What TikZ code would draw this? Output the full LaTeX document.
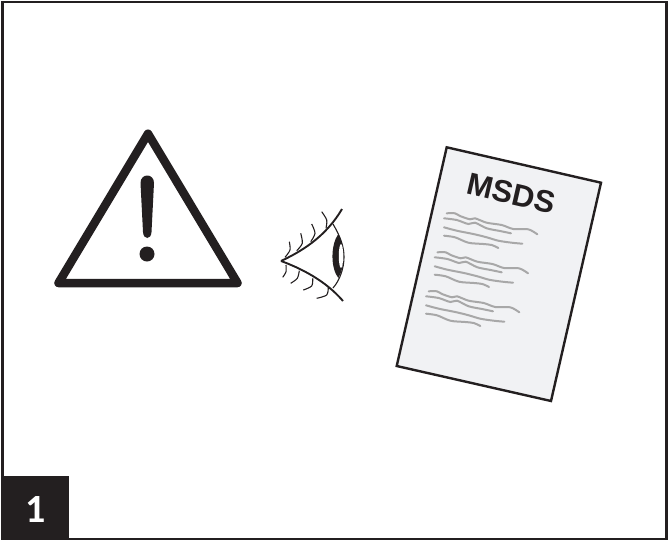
\documentclass[tikz,border=0pt]{standalone}
\usepackage{fontspec}
\setmainfont{Liberation Sans}
\newfontfamily\badgefont{Carlito}
\definecolor{inkdark}{HTML}{231F20}
\definecolor{sheetfill}{HTML}{F1F2F4}
\definecolor{scribble}{HTML}{A8A8A8}

\begin{document}
\begin{tikzpicture}[
		x=1pt, y=-1pt,
		frame/.style={draw=inkdark, line width=2.2pt},
		warning/.style={draw=inkdark, line width=8.5pt, line join=round},
		lid/.style={draw=inkdark, line width=1.9pt},
		lash/.style={draw=inkdark, line width=1.1pt},
		sheet/.style={draw=inkdark, fill=sheetfill, line width=2.4pt, line join=miter},
		textline/.style={draw=scribble, line width=2pt, line cap=round}
	]
		\useasboundingbox (0,0) rectangle (668,541);
		\draw[frame] (2.5,2) rectangle (666.5,539);

		% warning sign
		\draw[warning] (148,133.7) -- (237.5,283) -- (58.5,283) -- cycle;
		\fill[inkdark] (140.5,183) .. controls (140.5,173) and (154,173) .. (154,183)
			-- (151.5,232) .. controls (151,240) and (143.5,240) .. (143,232) -- cycle;
		\fill[inkdark] (147,254) circle (7.5);

		% eye
		\draw[lid] (281,261) .. controls (300,252) and (325,238) .. (342,209);
		\draw[lid] (281,261) .. controls (300,268) and (325,280) .. (343,301);
		\draw[lash] (333,224) .. controls (340,236) and (344,246) .. (344,257)
			.. controls (344,268) and (340,280) .. (333,288);
		\fill[inkdark] (338.3,234) .. controls (330.5,245) and (330.5,268) .. (338.3,278)
			.. controls (345,268) and (345,245) .. (338.3,234) -- cycle;
		\fill[white] (341,256) ellipse (2.2 and 12);
		\foreach \ax/\ay/\bx/\by/\cx/\cy in {
			285/257.3/290/250/289.3/241.7,
			296.7/250.7/302.3/243.3/300.7/233.3,
			310.7/241.7/315/233.3/311.7/224,
			326/228.3/326.7/220/321.7/211.7,
			286/265/286/271.7/282.7/277.3,
			299.3/270.7/297.3/278.3/290.7/283.3,
			312.7/278.3/311.7/286/303.3/290,
			328.3/287.3/326.7/295/316.7/298.3}
			\draw[lash] plot[smooth] coordinates {(\ax,\ay) (\bx,\by) (\cx,\cy)};

		% data sheet
		\draw[sheet] (446.7,147.3) -- (601,182.7) -- (551,401) -- (396.7,366) -- cycle;
		\node[rotate=-13, font=\bfseries\fontsize{31}{31}\selectfont, text=inkdark] (title) at (511.5,193.5) {MSDS};
		\foreach \dx/\dy in {0/0, -9.3/39, -18/78} {
			\draw[textline, shift={(\dx,\dy)}] plot[smooth] coordinates {(446.7,213.3) (455,213.3) (460,216) (470,219.3) (475,218.3) (486.7,222.7) (501.7,225) (513.3,229) (528.3,229.3) (537.3,234.3)};
			\draw[textline, shift={(\dx,\dy)}] plot[smooth] coordinates {(444,218.3) (456.7,220) (468.3,224) (475,222.7) (486.7,228.3) (500,231) (511,233.3)};
			\draw[textline, shift={(\dx,\dy)}] plot[smooth] coordinates {(444,227.3) (456.7,230.7) (473.3,234) (486.7,237.3) (498.3,240.7) (511.7,242.7) (522.3,243.7)};
			\draw[textline, shift={(\dx,\dy)}] plot[smooth] coordinates {(444,235.7) (455,237.3) (468.3,242.7) (483.3,244) (491.7,245) (498.3,248)};
		}

		% step number
		\fill[inkdark] (1,476) rectangle (69,540);
		\node[text=white, font=\badgefont\bfseries\fontsize{40}{40}\selectfont] (number) at (36,510) {1};
	\end{tikzpicture}
\end{document}
